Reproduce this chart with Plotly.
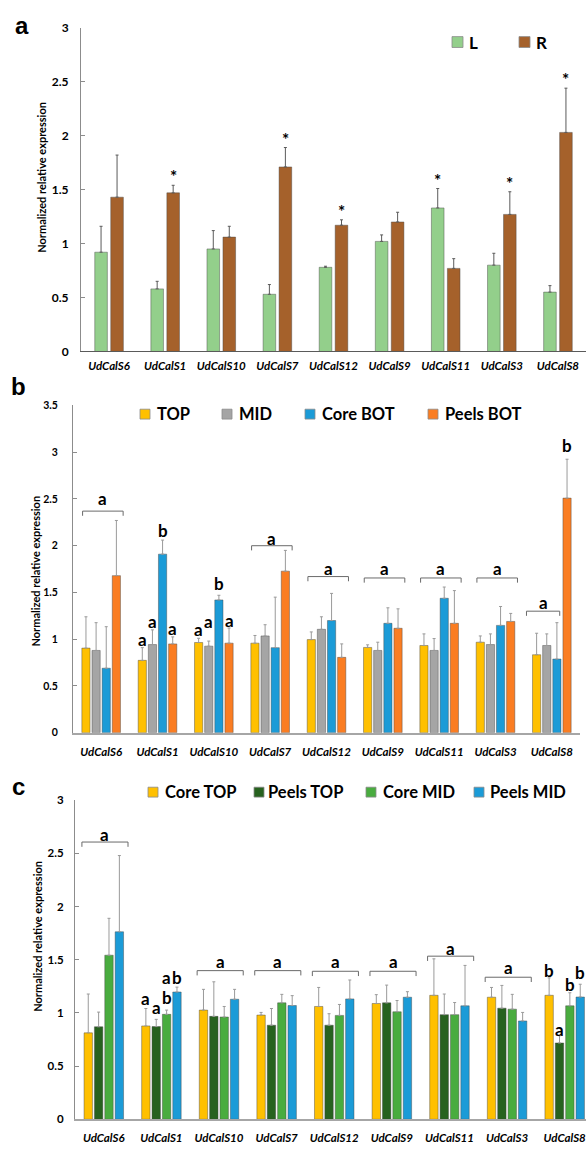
import plotly.graph_objects as go

W, H = 586, 1151

genes = ["UdCalS6", "UdCalS1", "UdCalS10", "UdCalS7", "UdCalS12",
         "UdCalS9", "UdCalS11", "UdCalS3", "UdCalS8"]

# ---------------- Panel a ----------------
a_names = ["L", "R"]
a_colors = ["#93CF8B", "#A5612B"]
a_L = [0.92, 0.58, 0.95, 0.53, 0.78, 1.02, 1.33, 0.80, 0.55]
a_L_err = [0.24, 0.07, 0.17, 0.09, 0.01, 0.06, 0.18, 0.11, 0.06]
a_R = [1.43, 1.47, 1.06, 1.71, 1.17, 1.20, 0.77, 1.27, 2.03]
a_R_err = [0.39, 0.07, 0.10, 0.18, 0.05, 0.09, 0.09, 0.21, 0.41]
a_stars = [(1, 1), (1, 3), (1, 4), (0, 6), (1, 7), (1, 8)]  # (series, gene)

# ---------------- Panel b ----------------
b_names = ["TOP", "MID", "Core BOT", "Peels BOT"]
b_colors = ["#FFC000", "#A5A5A5", "#1B9BD7", "#FA7D22"]
b_TOP = [0.905, 0.774, 0.965, 0.958, 0.996, 0.912, 0.933, 0.968, 0.834]
b_TOP_err = [0.335, 0.136, 0.045, 0.082, 0.082, 0.028, 0.124, 0.067, 0.23]
b_MID = [0.88, 0.943, 0.926, 1.035, 1.106, 0.88, 0.88, 0.943, 0.933]
b_MID_err = [0.297, 0.157, 0.054, 0.12, 0.134, 0.088, 0.127, 0.114, 0.124]
b_CBOT = [0.69, 1.91, 1.42, 0.91, 1.20, 1.17, 1.438, 1.148, 0.788]
b_CBOT_err = [0.444, 0.15, 0.05, 0.54, 0.29, 0.166, 0.12, 0.202, 0.389]
b_PBOT = [1.68, 0.95, 0.958, 1.728, 0.806, 1.117, 1.17, 1.19, 2.509]
b_PBOT_err = [0.59, 0.075, 0.162, 0.222, 0.144, 0.208, 0.35, 0.086, 0.416]
# letters over single bars: (text, gene, series, y)
b_letters = [("a", 1, 0, 1.0), ("a", 1, 1, 1.19), ("b", 1, 2, 2.16), ("a", 1, 3, 1.12),
             ("a", 2, 0, 1.10), ("a", 2, 1, 1.19), ("b", 2, 2, 1.60), ("a", 2, 3, 1.20),
             ("b", 8, 3, 3.07)]
# brackets: (text, gene, y of bracket, y of label)
b_brackets = [("a", 0, 2.37, 2.50), ("a", 3, 2.00, 2.08), ("a", 4, 1.67, 1.76),
              ("a", 5, 1.655, 1.76), ("a", 6, 1.655, 1.76), ("a", 7, 1.655, 1.76),
              ("a", 8, 1.30, 1.39)]

# ---------------- Panel c ----------------
c_names = ["Core TOP", "Peels TOP", "Core MID", "Peels MID"]
c_colors = ["#FFC000", "#27621F", "#49AC3F", "#1B9BD7"]
c_CTOP = [0.813, 0.878, 1.027, 0.98, 1.061, 1.089, 1.166, 1.148, 1.166]
c_CTOP_err = [0.365, 0.164, 0.195, 0.025, 0.179, 0.083, 0.343, 0.092, 0.164]
c_PTOP = [0.87, 0.872, 0.968, 0.885, 0.885, 1.095, 0.984, 1.045, 0.718]
c_PTOP_err = [0.138, 0.068, 0.325, 0.157, 0.108, 0.167, 0.194, 0.214, 0.068]
c_CMID = [1.543, 0.987, 0.962, 1.095, 0.977, 1.011, 0.984, 1.036, 1.067]
c_CMID_err = [0.347, 0.04, 0.099, 0.08, 0.103, 0.106, 0.114, 0.139, 0.123]
c_PMID = [1.763, 1.197, 1.129, 1.07, 1.132, 1.148, 1.067, 0.925, 1.15]
c_PMID_err = [0.717, 0.046, 0.093, 0.093, 0.178, 0.052, 0.38, 0.08, 0.12]
c_letters = [("a", 1, 0, 1.14), ("a", 1, 1, 1.05), ("b", 1, 2, 1.15), ("a", 1, 2, 1.33),
             ("b", 1, 3, 1.33),
             ("b", 8, 0, 1.40), ("a", 8, 1, 0.84), ("b", 8, 2, 1.265), ("b", 8, 3, 1.38)]
c_brackets = [("a", 0, 2.607, 2.68), ("a", 2, 1.398, 1.48), ("a", 3, 1.398, 1.48),
              ("a", 4, 1.392, 1.48), ("a", 5, 1.392, 1.48), ("a", 6, 1.534, 1.61),
              ("a", 7, 1.336, 1.43)]

# ------------------------------------------------------------
FONT = "Lato, 'Open Sans', sans-serif"
BARGAP = 0.28
GROUPGAP = 0.19


def px(x):
    return x / W


def py(y):
    return 1 - y / H


xs = list(range(len(genes)))
fig = go.Figure()


def err(arr, color):
    return dict(type="data", array=arr, arrayminus=[0] * len(arr), symmetric=False,
                color=color, thickness=1, width=1.5)


OUTLINE = dict(color="rgba(70,70,70,0.55)", width=0.8)

# panel a bars (explicit width/offset, as layout bargap is shared)
a_width = 0.225
a_offsets = [-0.255, 0.03]
for name, vals, errs, col, off in zip(a_names, [a_L, a_R], [a_L_err, a_R_err], a_colors, a_offsets):
    fig.add_trace(go.Bar(x=xs, y=vals, name=name, width=a_width, offset=off,
                         marker=dict(color=col, line=OUTLINE),
                         error_y=err(errs, "#5a5a5a"), xaxis="x", yaxis="y", showlegend=False))

for name, vals, errs, col in zip(b_names, [b_TOP, b_MID, b_CBOT, b_PBOT],
                                 [b_TOP_err, b_MID_err, b_CBOT_err, b_PBOT_err], b_colors):
    fig.add_trace(go.Bar(x=xs, y=vals, name=name, marker=dict(color=col, line=OUTLINE),
                         error_y=err(errs, "#9a9a9a"), xaxis="x2", yaxis="y2", showlegend=False))

for name, vals, errs, col in zip(c_names, [c_CTOP, c_PTOP, c_CMID, c_PMID],
                                 [c_CTOP_err, c_PTOP_err, c_CMID_err, c_PMID_err], c_colors):
    fig.add_trace(go.Bar(x=xs, y=vals, name=name, marker=dict(color=col, line=OUTLINE),
                         error_y=err(errs, "#9a9a9a"), xaxis="x3", yaxis="y3", showlegend=False))

annotations = []
shapes = []


def slot_off(k, n=4):
    slot = (1 - BARGAP) / n
    return (k - (n - 1) / 2) * slot


# stars panel a
a_vals = [a_L, a_R]
a_errs = [a_L_err, a_R_err]
for s, g in a_stars:
    annotations.append(dict(x=g + a_offsets[s] + a_width / 2, y=a_vals[s][g] + a_errs[s][g],
                            xref="x", yref="y", text="<b>*</b>", showarrow=False,
                            xanchor="center", yanchor="bottom", yshift=-4,
                            font=dict(family=FONT, size=17, color="black")))

LETTER_SIZE = 17


def add_letters(letters, xref, yref):
    for t, g, s, y in letters:
        annotations.append(dict(x=g + slot_off(s), y=y, xref=xref, yref=yref,
                                text="<b>%s</b>" % t, showarrow=False,
                                xanchor="center", yanchor="middle",
                                font=dict(family=FONT, size=LETTER_SIZE, color="black")))


def add_brackets(brackets, xref, yref, tick, spans):
    for t, g, yb, yl in brackets:
        x0, x1 = spans.get(g, spans["default"])
        x0 += g
        x1 += g
        line = dict(color="#6a6a6a", width=1)
        shapes.append(dict(type="line", xref=xref, yref=yref, x0=x0, x1=x1, y0=yb, y1=yb, line=line))
        shapes.append(dict(type="line", xref=xref, yref=yref, x0=x0, x1=x0, y0=yb, y1=yb - tick, line=line))
        shapes.append(dict(type="line", xref=xref, yref=yref, x0=x1, x1=x1, y0=yb, y1=yb - tick, line=line))
        annotations.append(dict(x=(x0 + x1) / 2, y=yl, xref=xref, yref=yref,
                                text="<b>%s</b>" % t, showarrow=False,
                                xanchor="center", yanchor="middle",
                                font=dict(family=FONT, size=LETTER_SIZE, color="black")))


add_letters(b_letters, "x2", "y2")
add_brackets(b_brackets, "x2", "y2", 0.05, {"default": (-0.33, 0.39), 8: (-0.45, 0.14)})
add_letters(c_letters, "x3", "y3")
add_brackets(c_brackets, "x3", "y3", 0.045, {"default": (-0.38, 0.42)})


# legends (drawn manually to match placement)
def legend_items(items, yc, size, font_size):
    for name, col, xs0, xt in items:
        shapes.append(dict(type="rect", xref="paper", yref="paper",
                           x0=px(xs0), x1=px(xs0 + size), y0=py(yc - size / 2), y1=py(yc + size / 2),
                           fillcolor=col, line=dict(color="#8a8a8a", width=0.8)))
        annotations.append(dict(x=px(xt), y=py(yc), xref="paper", yref="paper", text="<b>%s</b>" % name,
                                showarrow=False, xanchor="left", yanchor="middle",
                                font=dict(family=FONT, size=font_size, color="black")))


legend_items(list(zip(a_names, a_colors, [452, 519], [467, 534])), 34.5, 11, 17)
legend_items(list(zip(b_names, b_colors, [140, 222, 305, 428], [155, 237, 320, 443])), 411.5, 10, 16.5)
legend_items(list(zip(c_names, c_colors, [148, 254, 366, 474], [163, 266, 381, 488])), 794.5, 10, 16.5)

# panel letters
for t, x, y in [("a", 22, 18), ("b", 18, 384), ("c", 18, 789)]:
    annotations.append(dict(x=px(x), y=py(y), xref="paper", yref="paper", text="<b>%s</b>" % t,
                            showarrow=False, xanchor="center", yanchor="middle",
                            font=dict(family="Liberation Sans, Arial", size=24, color="black")))

# y titles
for x, y in [(42, 172), (36, 571), (38, 940)]:
    annotations.append(dict(x=px(x), y=py(y), xref="paper", yref="paper",
                            text="<b>Normalized relative expression</b>", textangle=-90, showarrow=False,
                            xanchor="center", yanchor="middle",
                            font=dict(family=FONT, size=11, color="black")))


def xaxis(domain, anchor, rng, lcolor, lwidth, standoff):
    return dict(domain=domain, anchor=anchor, range=rng, tickvals=xs, ticktext=genes,
                showline=True, linecolor=lcolor, linewidth=lwidth, ticks="", showgrid=False,
                zeroline=False, ticklabelstandoff=standoff, ticklabeloverflow="allow",
                tickfont=dict(family=FONT, size=11.5, color="black", weight="bold", style="italic"))


def yaxis(domain, anchor, rng, standoff, size):
    return dict(domain=domain, anchor=anchor, range=rng, dtick=0.5, tick0=0,
                showline=True, linecolor="#8c8c8c", linewidth=1, ticks="inside", ticklen=4,
                tickcolor="#8c8c8c", showgrid=False, zeroline=False, ticklabelstandoff=standoff,
                tickfont=dict(family=FONT, size=size, color="black", weight="bold"))


fig.update_layout(
    width=W, height=H, margin=dict(l=0, r=0, t=0, b=0),
    paper_bgcolor="white", plot_bgcolor="white",
    barmode="group", bargap=BARGAP, bargroupgap=GROUPGAP, showlegend=False,
    xaxis=xaxis([px(81), 1.0], "y", [-0.5, 8.5], "#5a5a5a", 1.3, 4),
    yaxis=yaxis([py(348), py(20)], "x", [0, 3], 9, 12),
    xaxis2=xaxis([px(73), px(580)], "y2", [-0.5, 8.5], "#a6a6a6", 2, 7),
    yaxis2=yaxis([py(734.3), py(402.7)], "x2", [0, 3.5], 12, 10.5),
    xaxis3=xaxis([px(75), 1.0], "y3", [-0.5, 8.37], "#a6a6a6", 2, 7),
    yaxis3=yaxis([py(1126), py(802.7)], "x3", [0, 3], 8, 11.5),
    annotations=annotations, shapes=shapes,
)

fig.write_html("out.html", config={"displayModeBar": False},
               post_script="document.body.style.margin='0';document.body.style.overflow='hidden';")
